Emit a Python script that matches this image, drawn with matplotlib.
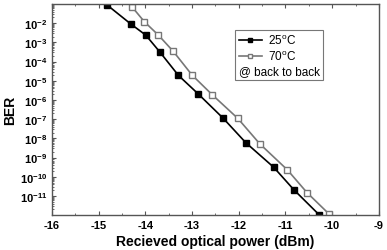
import matplotlib
matplotlib.use("Agg")
import matplotlib.pyplot as plt
import numpy as np
from matplotlib.ticker import FixedLocator, LogLocator, NullFormatter, MultipleLocator

plt.rcParams["font.family"] = ["Liberation Sans", "DejaVu Sans"]
plt.rcParams["mathtext.fontset"] = "custom"
plt.rcParams["mathtext.rm"] = "Liberation Sans:bold"
plt.rcParams["mathtext.it"] = "Liberation Sans:bold"
plt.rcParams["mathtext.bf"] = "Liberation Sans:bold"

power_25 = [-14.82, -14.31, -13.99, -13.69, -13.29, -12.87, -12.33, -11.85, -11.25, -10.82, -10.28]
ber_25 = [9e-2, 9.1e-3, 2.4e-3, 3.2e-4, 1.9e-5, 2.1e-6, 1.1e-7, 6.0e-9, 3.1e-10, 2.1e-11, 1.05e-12]

power_70 = [-14.28, -14.02, -13.72, -13.40, -13.00, -12.57, -12.02, -11.55, -10.96, -10.54, -10.06]
ber_70 = [6.9e-2, 1.2e-2, 2.4e-3, 3.4e-4, 2.0e-5, 1.9e-6, 1.1e-7, 5.2e-9, 2.3e-10, 1.5e-11, 1.1e-12]

x_ticks = [-16, -15, -14, -13, -12, -11, -10, -9]
y_decades = list(range(-11, -1))

fig = plt.figure(figsize=(3.87, 2.51), dpi=100)
ax = fig.add_axes([0.134, 0.139, 0.845, 0.841])

ax.plot(power_25, ber_25, color="black", lw=1.2, marker="s", ms=4.0,
        mfc="black", mec="black", label="25$^\\mathregular{o}$C")
ax.plot(power_70, ber_70, color="#777777", lw=1.2, marker="s", ms=4.0,
        mfc="white", mec="#777777", label="70$^\\mathregular{o}$C")
ax.plot([], [], " ", label="@ back to back")

ax.set_yscale("log")
ax.set_xlim(-16, -9)
ax.set_ylim(1e-12, 1e-1)

ax.xaxis.set_major_locator(FixedLocator(x_ticks))
ax.xaxis.set_minor_locator(MultipleLocator(0.5))
ax.set_xticklabels([str(t) for t in x_ticks], fontweight="bold")

ax.yaxis.set_major_locator(FixedLocator([10.0 ** d for d in y_decades]))
ax.set_yticklabels(["$10^{%d}$" % d for d in y_decades])
ax.yaxis.set_minor_locator(LogLocator(base=10, subs=np.arange(2, 10), numticks=30))
ax.yaxis.set_minor_formatter(NullFormatter())

ax.tick_params(axis="x", which="both", direction="in", top=True, labelsize=8)
ax.tick_params(axis="y", which="both", direction="in", right=False, labelsize=8)
ax.tick_params(which="major", length=3, width=0.8, color="#555555")
ax.tick_params(which="minor", length=1.5, width=0.6, color="#555555")

for s in ax.spines.values():
    s.set_color("#555555")
    s.set_linewidth(1.0)

ax.set_xlabel("Recieved optical power (dBm)", fontsize=10, fontweight="bold", labelpad=3)
ax.set_ylabel("BER", fontsize=10, fontweight="bold", labelpad=2)

leg = ax.legend(loc="upper left", bbox_to_anchor=(0.56, 0.877), fontsize=8.5,
                frameon=True, fancybox=False, handlelength=2.0, handletextpad=0.5,
                borderpad=0.3, borderaxespad=0, labelspacing=0.15, markerscale=0.75)
leg.get_frame().set_edgecolor("#555555")
leg.get_frame().set_linewidth(0.8)
# the last entry has no handle; drop its handle box so its text sits at the left
col = leg._legend_handle_box.get_children()[0]
row = col.get_children()[2]
row._children = [row._children[1]]

fig.savefig("out.png", dpi=100)
